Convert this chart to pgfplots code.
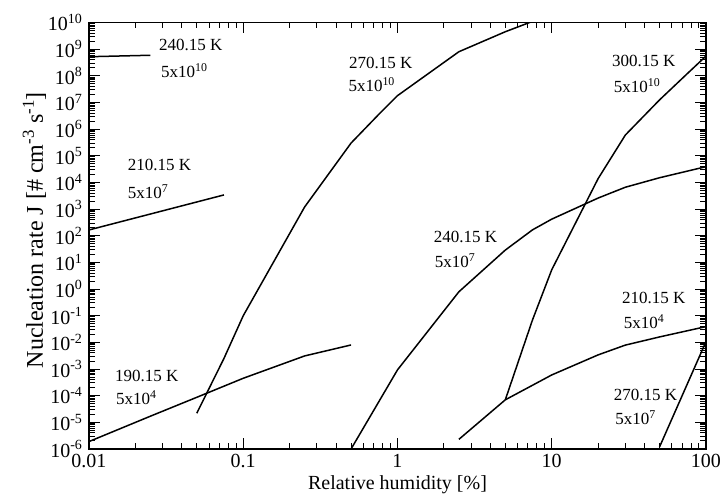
\documentclass[border=0pt]{standalone}
\usepackage{pgfplots}
\pgfplotsset{compat=1.18}
\usepackage{fontspec}
\setmainfont{Liberation Serif}
\newcommand{\sups}[1]{\textsuperscript{#1}}
\newcommand{\lbl}{\fontsize{17}{17}\selectfont}
\begin{document}
\begin{tikzpicture}
\begin{axis}[
  scale only axis, width=617pt, height=426.5pt,
  xmode=log, ymode=log,
  xmin=0.01, xmax=100, ymin=1e-6, ymax=1e10,
  axis lines=box,
  xtickten={-2,-1,0,1,2},
  xticklabels={0.01,0.1,1,10,100},
  ytickten={-6,-5,-4,-3,-2,-1,0,1,2,3,4,5,6,7,8,9,10},
  yticklabels={10\sups{-6},10\sups{-5},10\sups{-4},10\sups{-3},10\sups{-2},10\sups{-1},10\sups{0},10\sups{1},10\sups{2},10\sups{3},10\sups{4},10\sups{5},10\sups{6},10\sups{7},10\sups{8},10\sups{9},10\sups{10}},
  minor xtick={0.02,0.03,0.04,0.05,0.06,0.07,0.08,0.09,0.2,0.3,0.4,0.5,0.6,0.7,0.8,0.9,2,3,4,5,6,7,8,9,20,30,40,50,60,70,80,90},
  minor ytick={2e-6,3e-6,4e-6,5e-6,6e-6,7e-6,8e-6,9e-6,
    2e-5,3e-5,4e-5,5e-5,6e-5,7e-5,8e-5,9e-5,
    2e-4,3e-4,4e-4,5e-4,6e-4,7e-4,8e-4,9e-4,
    2e-3,3e-3,4e-3,5e-3,6e-3,7e-3,8e-3,9e-3,
    2e-2,3e-2,4e-2,5e-2,6e-2,7e-2,8e-2,9e-2,
    2e-1,3e-1,4e-1,5e-1,6e-1,7e-1,8e-1,9e-1,
    2,3,4,5,6,7,8,9,
    2e1,3e1,4e1,5e1,6e1,7e1,8e1,9e1,
    2e2,3e2,4e2,5e2,6e2,7e2,8e2,9e2,
    2e3,3e3,4e3,5e3,6e3,7e3,8e3,9e3,
    2e4,3e4,4e4,5e4,6e4,7e4,8e4,9e4,
    2e5,3e5,4e5,5e5,6e5,7e5,8e5,9e5,
    2e6,3e6,4e6,5e6,6e6,7e6,8e6,9e6,
    2e7,3e7,4e7,5e7,6e7,7e7,8e7,9e7,
    2e8,3e8,4e8,5e8,6e8,7e8,8e8,9e8,
    2e9,3e9,4e9,5e9,6e9,7e9,8e9,9e9},
  tick align=inside,
  major tick length=11pt, minor tick length=6pt,
  tick style={black, line width=1pt},
  axis line style={black, line width=1.5pt},
  tick label style={font=\fontsize{20}{20}\selectfont},
  xticklabel style={yshift=-2pt},
  yticklabel style={xshift=-3pt},
  xlabel={Relative humidity [\%]},
  ylabel={Nucleation rate J [\# cm\sups{-3} s\sups{-1}]},
  xlabel style={font=\fontsize{20}{20}\selectfont, at={(axis description cs:0.5,-0.0961)}, anchor=base},
  ylabel style={font=\fontsize{24}{24}\selectfont, at={(axis description cs:-0.0746,0.513)}, anchor=base},
]
% 240.15 K, 5x10^10
\addplot[black, line width=1.5pt] coordinates {(0.01,5.2e8) (0.025,5.9e8)};
% 210.15 K, 5x10^7
\addplot[black, line width=1.5pt] coordinates {(0.01,1.65e2) (0.075,3.4e3)};
% 190.15 K, 5x10^4
\addplot[black, line width=1.5pt] coordinates {(0.01,1.9e-6) (0.025,1.7e-5) (0.05,8.7e-5) (0.1,4.5e-4) (0.25,3.1e-3) (0.5,8e-3)};
% 270.15 K, 5x10^10
\addplot[black, line width=1.5pt] coordinates {(0.05,2.2e-5) (0.075,2.5e-3) (0.1,0.1) (0.25,1.2e3) (0.5,3e5) (0.75,3.4e6) (1,1.8e7) (2.5,8e8) (5,4.5e9) (7.5,1.1e10)};
% 240.15 K, 5x10^7
\addplot[black, line width=1.5pt] coordinates {(0.5,1e-6) (1,9.3e-4) (2.5,0.79) (5,29) (7.5,166) (10,420) (20,2.6e3) (30,6.6e3) (50,1.5e4) (100,3.9e4)};
% 300.15 K, 5x10^10
\addplot[black, line width=1.5pt] coordinates {(5,7e-5) (7.5,0.069) (10,5.3) (20,1.4e4) (30,6e5) (50,1.25e7) (75,1.15e8) (100,5.5e8)};
% 210.15 K, 5x10^4
\addplot[black, line width=1.5pt] coordinates {(2.5,2.3e-6) (5,7e-5) (10,6e-4) (20,3.4e-3) (30,7.9e-3) (50,1.6e-2) (100,3.9e-2)};
% 270.15 K, 5x10^7
\addplot[black, line width=1.5pt] coordinates {(50,1.2e-6) (100,1.07e-2)};

\begin{scope}[every node/.style={anchor=base west, inner sep=0pt, font=\lbl}]
\node at (rel axis cs:0.1135,0.9332) {240.15 K};
\node at (rel axis cs:0.1167,0.8699) {5x10\sups{10}};
\node at (rel axis cs:0.4214,0.8910) {270.15 K};
\node at (rel axis cs:0.4203,0.8378) {5x10\sups{10}};
\node at (rel axis cs:0.8476,0.8964) {300.15 K};
\node at (rel axis cs:0.8504,0.8354) {5x10\sups{10}};
\node at (rel axis cs:0.0627,0.6525) {210.15 K};
\node at (rel axis cs:0.0627,0.5878) {5x10\sups{7}};
\node at (rel axis cs:0.5587,0.4830) {240.15 K};
\node at (rel axis cs:0.5603,0.4251) {5x10\sups{7}};
\node at (rel axis cs:0.8639,0.3400) {210.15 K};
\node at (rel axis cs:0.8666,0.2830) {5x10\sups{4}};
\node at (rel axis cs:0.0421,0.1578) {190.15 K};
\node at (rel axis cs:0.0438,0.1032) {5x10\sups{4}};
\node at (rel axis cs:0.8504,0.1132) {270.15 K};
\node at (rel axis cs:0.8530,0.0563) {5x10\sups{7}};
\end{scope}
\end{axis}
\pgfresetboundingbox
\path (-89pt,-46pt) rectangle (635pt,449pt);
\end{tikzpicture}
\end{document}
